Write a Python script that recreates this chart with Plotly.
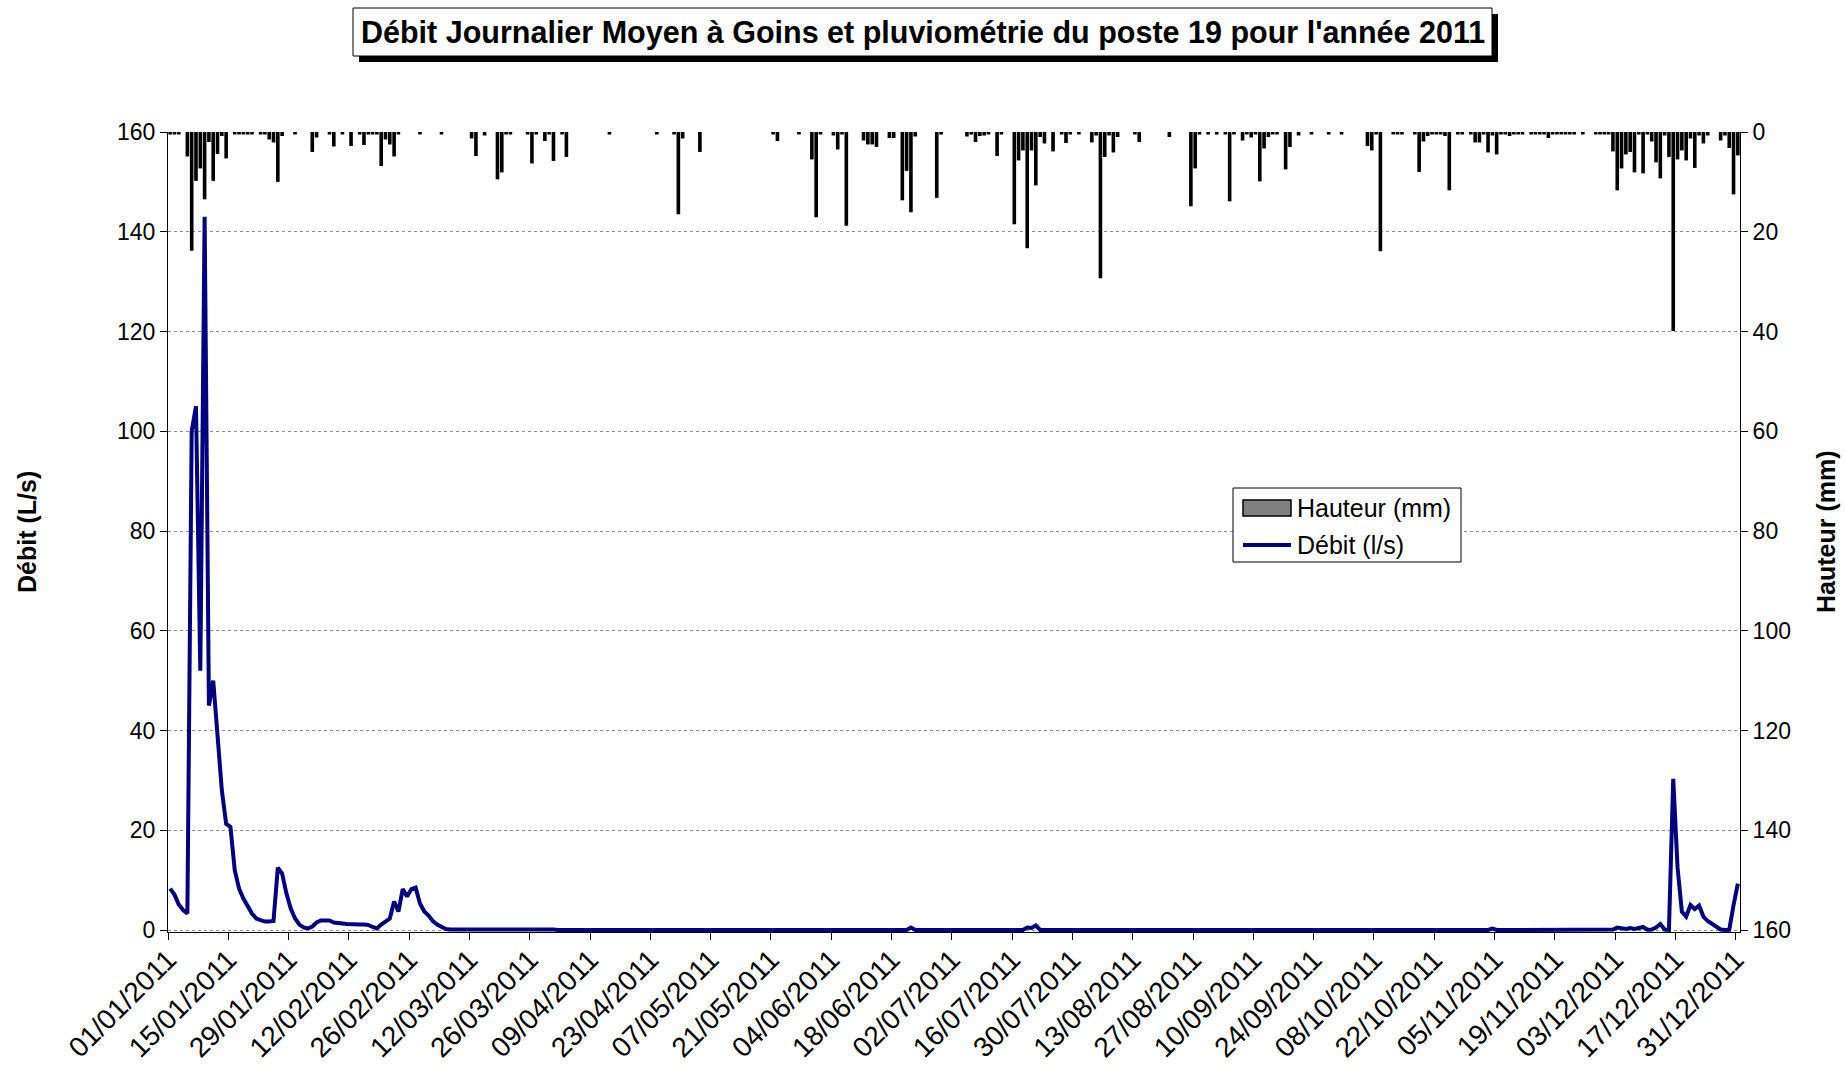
import plotly.graph_objects as go
import pandas as pd

# ---- Daily rainfall (mm), poste 19, 2011 ----
rain_jan = [0.5, 0.5, 0.5, 0, 4.9, 23.8, 9.8, 7.3, 13.5, 2, 9.8, 4.4, 0.8, 5.3, 0, 0.5,
            0.5, 0.5, 0.5, 0.5, 0, 0.5, 0.5, 1.5, 2.1, 10, 0.8, 0, 0, 0.5, 0]
rain_feb = [0, 0, 4, 1.1, 0, 0, 0.5, 2.9, 0, 0.5, 0, 2.8, 0, 0.5, 2.6, 0.5, 0.5, 0.5,
            6.8, 1.5, 2.5, 4.9, 0.5, 0, 0, 0, 0, 0.5]
rain_mar = [0, 0, 0, 0, 0.5, 0, 0, 0, 0, 0, 0, 1.3, 4.8, 0, 0.7, 0, 0, 9.5, 8.1, 0.5,
            0.5, 0, 0, 0, 0.5, 6.3, 0.5, 0, 1.8, 0.5, 5.8]
rain_apr = [0, 0.5, 5, 0, 0, 0, 0, 0, 0, 0, 0, 0, 0.5, 0, 0, 0, 0, 0, 0, 0, 0, 0, 0,
            0.5, 0, 0, 0, 0.5, 16.5, 1.3]
rain_may = [0, 0, 0, 4, 0, 0, 0, 0, 0, 0, 0, 0, 0, 0, 0, 0, 0, 0, 0, 0, 0.5, 1.8, 0,
            0, 0, 0, 0.5, 0, 0, 5.5, 17.1]
rain_jun = [0.5, 0, 0, 0.7, 3.5, 0.5, 18.8, 0, 0, 0, 1.7, 2.5, 2.5, 3, 0, 0, 1.2, 1.2,
            0, 13.7, 7.8, 16.1, 0.9, 0, 0, 0, 0, 13.2, 0.5, 0]
rain_jul = [0, 0, 0, 0, 0.9, 0.5, 2, 0.8, 0.7, 0.5, 0, 4.8, 0.5, 0, 0, 18.5, 5.7, 3.7,
            23.3, 3.7, 10.7, 1, 2.3, 0, 3.9, 0, 0.5, 2.2, 0.5, 0, 0.5]
rain_aug = [0, 0, 2.1, 0.7, 29.3, 5, 0.7, 4.1, 1, 0, 0, 0, 0.5, 2, 0, 0, 0, 0, 0, 0, 1,
            0, 0, 0, 0, 14.9, 7.3, 0.5, 0, 0.5, 0]
rain_sep = [0.5, 0, 0.5, 13.9, 0.5, 0, 1.7, 0.5, 1.1, 0.5, 9.9, 3.3, 1, 0.5, 0.5, 0,
            7.5, 3, 0, 0.7, 0, 0, 0.5, 0, 0, 0, 0.5, 0, 0, 0.5]
rain_oct = [0, 0, 0, 0, 0, 2.8, 3.7, 0.5, 23.9, 0, 0, 0.5, 0.5, 0.5, 0, 0, 0.5, 8, 1.9,
            0.8, 0.5, 0.5, 0.5, 0.8, 11.7, 0, 0.5, 0.5, 0, 0.5, 2.1]
rain_nov = [2.1, 0.5, 4.1, 0.7, 4.5, 0.5, 0.5, 0.8, 0.5, 0.5, 0.5, 0, 0.5, 0.5, 0.5,
            0.5, 1.2, 0.5, 0.5, 0.5, 0.5, 0.5, 0.5, 0, 0.5, 0, 0, 0.5, 0.5, 0.5]
rain_dec = [0.5, 3.9, 11.7, 7.3, 4.5, 4, 8.1, 0.5, 8.3, 0.5, 1.9, 6.1, 9.3, 0.7, 5,
            39.9, 5.5, 3.7, 5.7, 1.3, 7.2, 0.7, 2.3, 0.7, 0, 0, 1.7, 0.7, 3.2, 12.5, 4.7]

# ---- Daily mean discharge (L/s) at Goins, 2011 ----
debit_jan = [8.3, 7.1, 5.1, 4, 3.3, 100, 105, 52, 143, 45, 50, 39, 28, 21.3, 20.7, 12,
             8.3, 6.3, 4.7, 3.3, 2.3, 1.9, 1.7, 1.7, 1.8, 12.5, 11.3, 7.3, 4.3, 2.3, 1.1]
debit_feb = [0.5, 0.3, 0.7, 1.5, 1.9, 1.9, 1.9, 1.5, 1.5, 1.3, 1.2, 1.1, 1.2, 1.1, 1.1,
             1.0, 0.6, 0.3, 1.1, 1.7, 2.3, 5.7, 3.7, 8.2, 6.7, 8.2, 8.5, 5.3]
debit_mar = [3.7, 2.9, 1.8, 1.1, 0.7, 0.2, 0.1, 0.1, 0.1, 0.1, 0.1, 0.1, 0.1, 0.1, 0.1,
             0.1, 0.1, 0.3, 0.1, 0.1, 0.1, 0.1, 0.1, 0.1, 0.1, 0.2, 0.1, 0.1, 0.1, 0.1, 0.1]
debit_apr = [0] * 30
debit_may = [0] * 31
debit_jun = [0] * 21 + [0.5, 0, 0, 0, 0, 0, 0.2, 0, 0]
debit_jul = [0] * 18 + [0.5, 0.4, 0.9] + [0] * 10
debit_aug = [0] * 31
debit_sep = [0] * 30
debit_oct = [0] * 8 + [0.2] + [0] * 22
debit_nov = [0, 0, 0, 0.3] + [0] * 26
debit_dec = [0, 0.1, 0.5, 0.3, 0.2, 0.4, 0.2, 0.4, 0.6, 0.05, 0.1, 0.5, 1.2, 0.1, 0.05,
             30.3, 12.5, 3.7, 2.7, 5, 4.2, 4.9, 2.7, 1.8, 1.2, 0.6, 0.1, 0, 0.05, 5, 9.3]

legend_labels = ["Hauteur (mm)", "Débit (l/s)"]

rain = (rain_jan + rain_feb + rain_mar + rain_apr + rain_may + rain_jun + rain_jul
        + rain_aug + rain_sep + rain_oct + rain_nov + rain_dec)
debit = (debit_jan + debit_feb + debit_mar + debit_apr + debit_may + debit_jun + debit_jul
         + debit_aug + debit_sep + debit_oct + debit_nov + debit_dec)
days = pd.date_range("2011-01-01", periods=len(rain), freq="D") + pd.Timedelta(hours=12)

FONT = "Liberation Sans, Arial, sans-serif"
NAVY = "#000080"
W, H = 1845, 1065
L, R, T, B = 168, 105, 132, 133
PW, PH = W - L - R, H - T - B


def px_x(px):
    return (px - L) / PW


def px_y(py):
    return 1 - (py - T) / PH


fig = go.Figure()
fig.add_trace(go.Bar(
    x=days, y=rain, yaxis="y2", name=legend_labels[0], showlegend=False,
    marker=dict(color="black", line=dict(width=0)), width=0.84 * 86400000,
))
fig.add_trace(go.Scatter(
    x=days, y=debit, mode="lines", name=legend_labels[1], showlegend=False,
    line=dict(color=NAVY, width=4),
))

axis_common = dict(
    showline=True, linecolor="black", linewidth=1, ticks="outside", ticklen=7,
    tickcolor="black", automargin=False,
)

# legend drawn as shapes + text (gray box swatch like the original)
lg_x0, lg_x1, lg_y0, lg_y1 = 1233, 1461, 488, 562
shapes = [
    dict(type="rect", xref="paper", yref="paper",
         x0=px_x(359), x1=px_x(1498), y0=px_y(62), y1=px_y(14),
         fillcolor="black", line=dict(width=0)),
    dict(type="rect", xref="paper", yref="paper",
         x0=px_x(353), x1=px_x(1492), y0=px_y(56), y1=px_y(8),
         fillcolor="white", line=dict(color="black", width=1)),
    dict(type="rect", xref="paper", yref="paper",
         x0=px_x(lg_x0), x1=px_x(lg_x1), y0=px_y(lg_y1), y1=px_y(lg_y0),
         fillcolor="white", line=dict(color="black", width=1)),
    dict(type="rect", xref="paper", yref="paper",
         x0=px_x(1243), x1=px_x(1291), y0=px_y(516), y1=px_y(500),
         fillcolor="#808080", line=dict(color="black", width=1.5)),
    dict(type="line", xref="paper", yref="paper",
         x0=px_x(1243), x1=px_x(1291), y0=px_y(545), y1=px_y(545),
         line=dict(color=NAVY, width=4)),
]

annotations = [
    dict(text="<b>Débit Journalier Moyen à Goins et pluviométrie du poste 19 pour l'année 2011</b>",
         xref="paper", yref="paper", x=px_x(922.5), y=px_y(32),
         xanchor="center", yanchor="middle", showarrow=False,
         font=dict(family=FONT, size=30.5, color="black")),
    dict(text="<b>Débit (L/s)</b>", xref="paper", yref="paper",
         x=px_x(27), y=px_y(532), textangle=-90, showarrow=False,
         xanchor="center", yanchor="middle",
         font=dict(family=FONT, size=25, color="black")),
    dict(text="<b>Hauteur (mm)</b>", xref="paper", yref="paper",
         x=px_x(1826), y=px_y(532), textangle=-90, showarrow=False,
         xanchor="center", yanchor="middle",
         font=dict(family=FONT, size=25, color="black")),
    dict(text=legend_labels[0], xref="paper", yref="paper",
         x=px_x(1295), y=px_y(508), xanchor="left", yanchor="middle",
         showarrow=False, font=dict(family=FONT, size=25, color="black")),
    dict(text=legend_labels[1], xref="paper", yref="paper",
         x=px_x(1295), y=px_y(545), xanchor="left", yanchor="middle",
         showarrow=False, font=dict(family=FONT, size=25, color="black")),
]

fig.update_layout(
    width=W, height=H,
    margin=dict(l=L, r=R, t=T, b=B, autoexpand=False),
    paper_bgcolor="white", plot_bgcolor="white",
    barmode="overlay",
    hovermode=False,
    showlegend=False,
    font=dict(family=FONT, color="black"),
    xaxis=dict(
        type="date", range=["2011-01-01", "2012-01-01"],
        tick0="2011-01-01", dtick=14 * 86400000, tickformat="%d/%m/%Y",
        tickangle=-45, showgrid=False, zeroline=False,
        tickfont=dict(family=FONT, size=28, color="black"),
        ticklabelstandoff=-8,
        **axis_common,
    ),
    yaxis=dict(
        range=[-0.4, 160], tick0=0, dtick=20, showgrid=True,
        gridcolor="#8c8c8c", griddash="dot", gridwidth=1, zeroline=False,
        tickfont=dict(family=FONT, size=23, color="black"),
        **axis_common,
    ),
    yaxis2=dict(
        range=[160.4, 0], tick0=0, dtick=20, overlaying="y", side="right",
        showgrid=False, zeroline=False,
        tickfont=dict(family=FONT, size=23, color="black"),
        **axis_common,
    ),
    shapes=shapes,
    annotations=annotations,
)

fig.write_html(
    "out.html",
    config={"displayModeBar": False},
    post_script="document.body.style.margin='0px';document.body.style.overflow='hidden';",
)
